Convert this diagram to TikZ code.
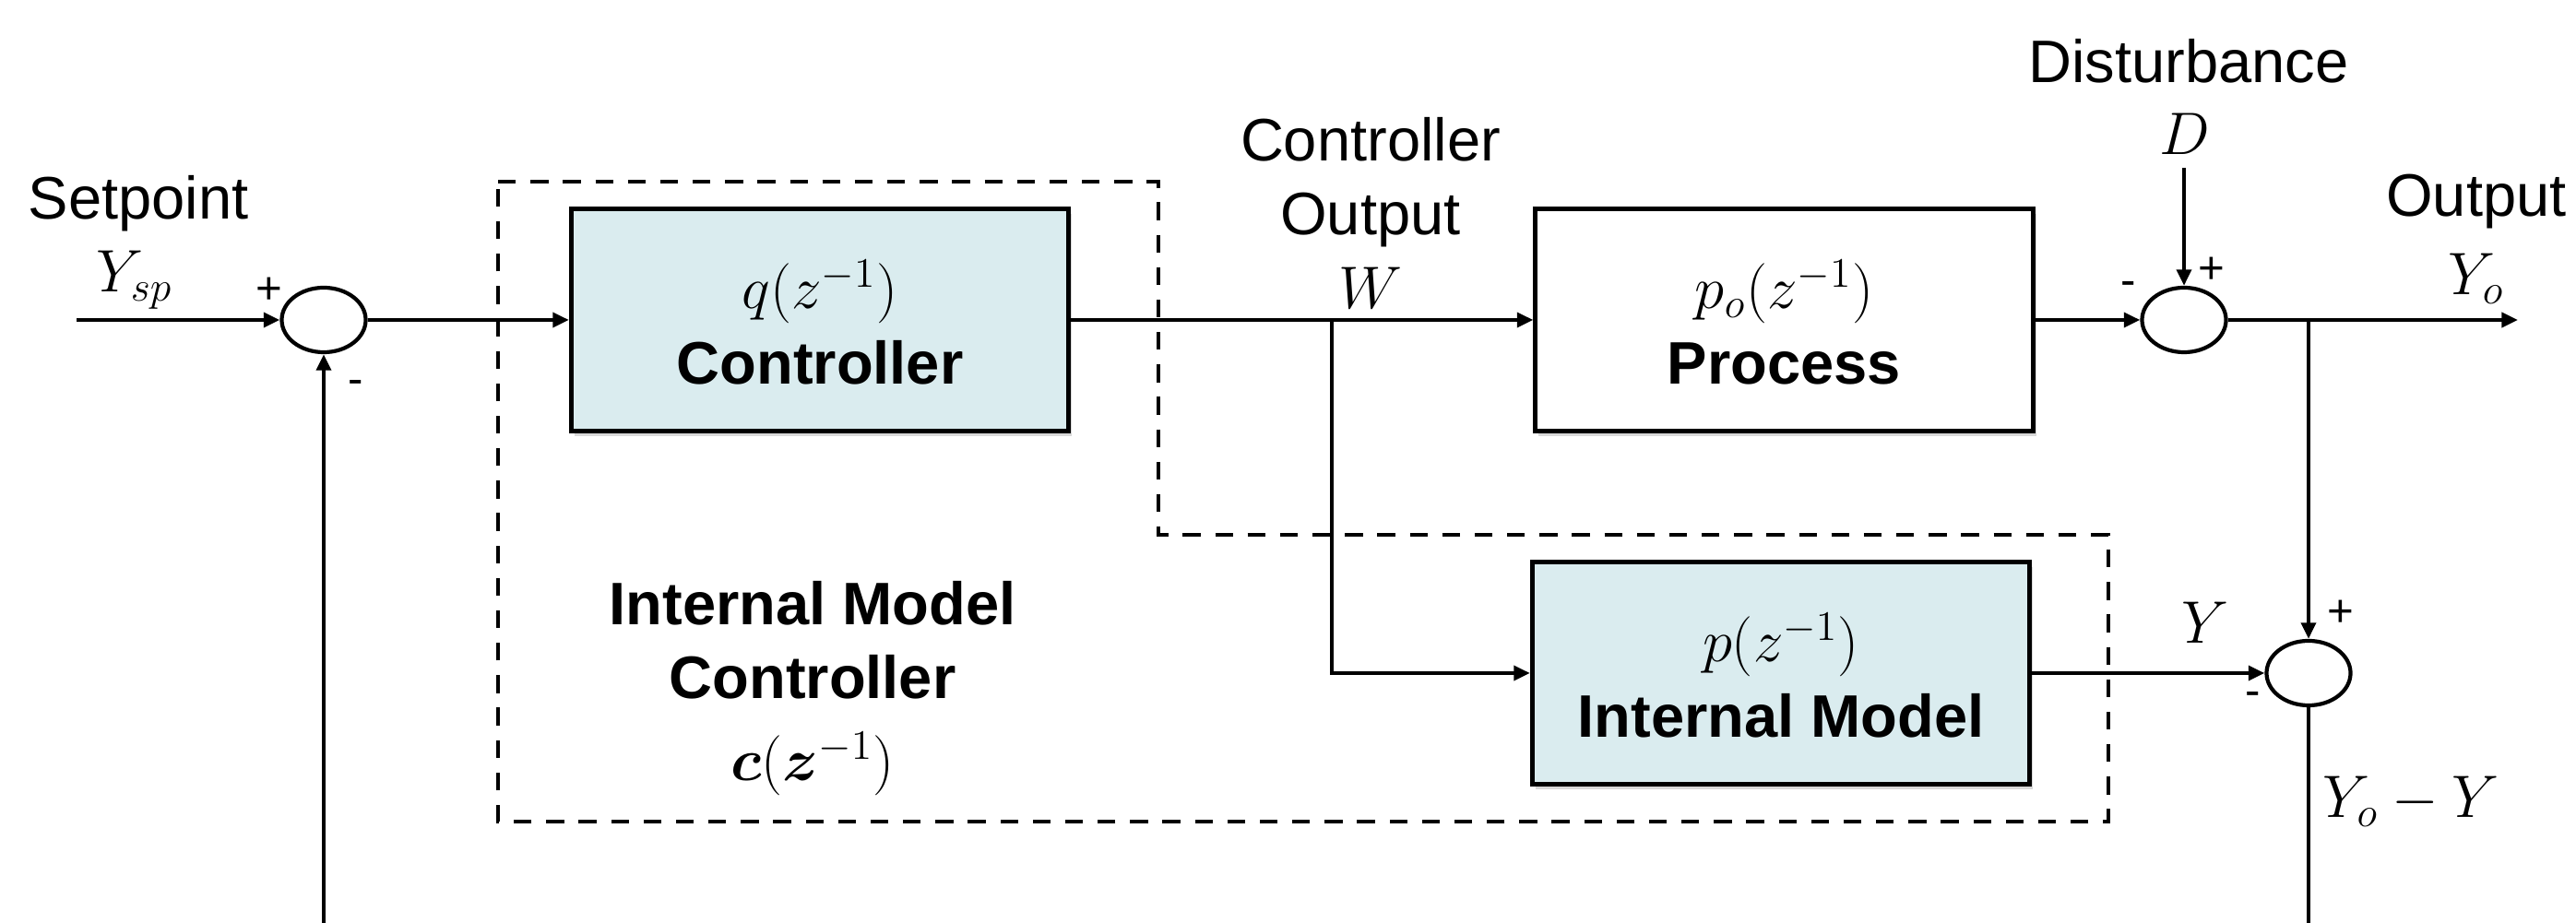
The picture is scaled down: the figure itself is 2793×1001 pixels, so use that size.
\RequirePackage{fix-cm}
\documentclass[tikz,border=0pt]{standalone}
\usepackage[no-math]{fontspec}
\setmainfont{Liberation Sans}
\usepackage{bm}
\usetikzlibrary{arrows.meta,shadows,shapes.geometric}
\definecolor{boxblue}{RGB}{218,236,239}
\tikzset{
  lbl/.style={font=\fontsize{18.5}{22.8}\selectfont, inner sep=0pt, anchor=base},
  sgn/.style={font=\fontsize{14}{16}\selectfont, inner sep=0pt},
  blk/.style={draw, line width=1.4pt, minimum width=5.39cm, minimum height=2.41cm,
    drop shadow={shadow xshift=1pt, shadow yshift=-1.6pt, opacity=0.3}},
  sumj/.style={ellipse, draw, line width=1.2pt, minimum width=0.91cm, minimum height=0.7cm,
    inner sep=0pt, fill=white},
  wire/.style={line width=1.15pt},
  conn/.style={wire, -{Triangle[length=5pt,width=4.5pt]}},
  region/.style={line width=1.4pt, dash pattern=on 5.5pt off 4.5pt}
}
\begin{document}
\begin{tikzpicture}[x=0.01cm,y=-0.01cm]
\useasboundingbox (0,0) rectangle (2793,1001);
\fill[white] (0,0) rectangle (2793,1001);

% internal model controller region
\draw[region] (540,197) -- (1256,197) -- (1256,580) -- (2286,580) -- (2286,891) -- (540,891) -- cycle;

% blocks
\node[blk, fill=boxblue] (ctrl) at (889,347) {};
\node[blk, fill=white] (proc) at (1934.5,347) {};
\node[blk, fill=boxblue] (model) at (1931,730) {};

% summing junctions
\node[sumj] (s1) at (351,347) {};
\node[sumj] (s2) at (2368,347) {};
\node[sumj] (s3) at (2503,730) {};

% coordinates
\coordinate (in) at (83,347);
\coordinate (w) at (1444,347);
\coordinate (br) at (2503,347);
\coordinate (dsrc) at (2368,182);
\coordinate (out) at (2730,347);
\coordinate (fbR) at (2503,1001);
\coordinate (fbL) at (351,1001);

% connectors
\draw[conn] (in) -- (s1.west);
\draw[conn] (s1.east) -- (ctrl.west);
\draw[wire] (ctrl.east) -- (w);
\draw[conn] (w) -- (proc.west);
\draw[conn] (w) |- (model.west);
\draw[conn] (proc.east) -- (s2.west);
\draw[conn] (dsrc) -- (s2.north);
\draw[wire] (s2.east) -- (br);
\draw[conn] (br) -- (out);
\draw[conn] (br) -- (s3.north);
\draw[conn] (model.east) -- (s3.west);
\draw[wire] (s3.south) -- (fbR);
\draw[conn] (fbL) -- (s1.south);

% block texts
\node[lbl] (qz) at (889,335) {$q(z^{-1})$};
\node[lbl] (qt) at (889,417) {\bfseries Controller};
\node[lbl] (pz) at (1934.5,335) {$p_o(z^{-1})$};
\node[lbl] (pt) at (1934.5,417) {\bfseries Process};
\node[lbl] (mz) at (1931,718) {$p(z^{-1})$};
\node[lbl] (mt) at (1931,800) {\bfseries Internal Model};

% labels
\node[lbl] (setpt) at (150,238) {Setpoint};
\node[lbl] (ysp) at (146,317) {$Y_{sp}$};
\node[sgn] (p1) at (292,315) {+};
\node[sgn] (m1) at (386,420) {-};

\node[lbl] (co1) at (1486,175) {Controller};
\node[lbl] (co2) at (1486,255) {Output};
\node[lbl] (co3) at (1486,335) {$W$};

\node[lbl] (dist) at (2373,90) {Disturbance};
\node[lbl] (dd) at (2369,168) {$D$};
\node[sgn] (m2) at (2308,313) {-};
\node[sgn] (p2) at (2398,293) {+};

\node[lbl] (outl) at (2685,235) {Output};
\node[lbl] (yo) at (2685,320) {$Y_o$};

\node[lbl] (yl) at (2391,698) {$Y$};
\node[sgn] (p3) at (2538,665) {+};
\node[sgn] (m3) at (2443,758) {-};
\node[lbl] (err) at (2614,887) {$Y_o - Y$};

\node[lbl] (imc1) at (881,678) {\bfseries Internal Model};
\node[lbl] (imc2) at (881,758) {\bfseries Controller};
\node[lbl] (imc3) at (881,847) {$\bm{c}(\bm{z}^{-1})$};
\end{tikzpicture}
\end{document}
